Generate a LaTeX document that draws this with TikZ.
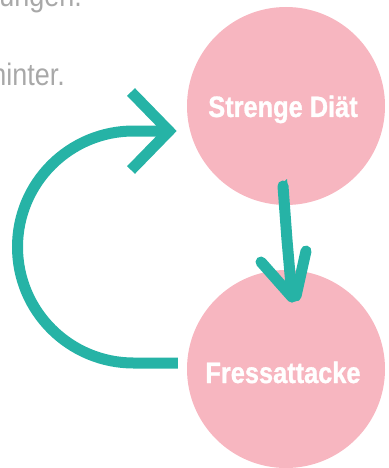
\documentclass[tikz,border=0pt]{standalone}
\usepackage{fontspec}
\newfontfamily\labelfont{Liberation Sans}[FakeStretch=0.86, FakeBold=1]
\newfontfamily\bodyfont{Liberation Sans}[FakeStretch=0.87]
\usetikzlibrary{calc}
\definecolor{pinkc}{HTML}{F7B6C0}
\definecolor{tealc}{HTML}{26B3A6}
\definecolor{grayc}{HTML}{A8A8A8}
\tikzset{
  bubble/.style={circle, fill=pinkc, minimum size=198pt, inner sep=0pt},
  bubbletext/.style={text=white, font=\labelfont\bfseries\fontsize{29.5}{34}\selectfont, inner sep=0pt, anchor=base},
  bodytext/.style={text=grayc, font=\bodyfont\fontsize{31}{36}\selectfont, inner sep=0pt, anchor=base east},
  loopline/.style={draw=tealc, line width=11pt, line cap=butt, line join=miter},
  brush/.style={draw=tealc, line width=11pt, line cap=round, line join=round}
}
\begin{document}
\begin{tikzpicture}[x=1pt, y=-1pt]
\useasboundingbox (0,0) rectangle (388,468);
\clip (0,0) rectangle (388,468);
% cut-off paragraph text
\node[bodytext] (t1) at (82,7) {ungen.};
\node[bodytext] (t2) at (65,86) {hinter.};
% circles
\node[bubble] (top) at (286,106) {};
\node[bubble] (bot) at (286,369) {};
\node[bubbletext] (toptext) at (283,117) {Strenge Diät};
\node[bubbletext] (bottext) at (283,383) {Fressattacke};
% loop arrow from Fressattacke back to Strenge Diaet
\coordinate (loopstart) at ($(bot.west)+(-9,-6)$);
\coordinate (looptip) at (169,131);
\draw[loopline] (loopstart) -- (133.5,363) arc[start angle=90, end angle=270, radius=116] -- (looptip);
\draw[loopline] ($(looptip)+(-38,-39)$) -- (looptip) -- ($(looptip)+(-38,39)$);
% hand-drawn arrow from Strenge Diaet to Fressattacke
\coordinate (dstart) at (283,186);
\coordinate (dtip) at (292,297);
\draw[brush] (dstart) -- (287,240) -- (dtip);
\draw[brush] (261,262) -- (dtip);
\draw[brush] (306,251) -- (296,296);
\fill[tealc] (279,186) -- (287,179) -- (288,190) -- cycle;
\end{tikzpicture}
\end{document}
